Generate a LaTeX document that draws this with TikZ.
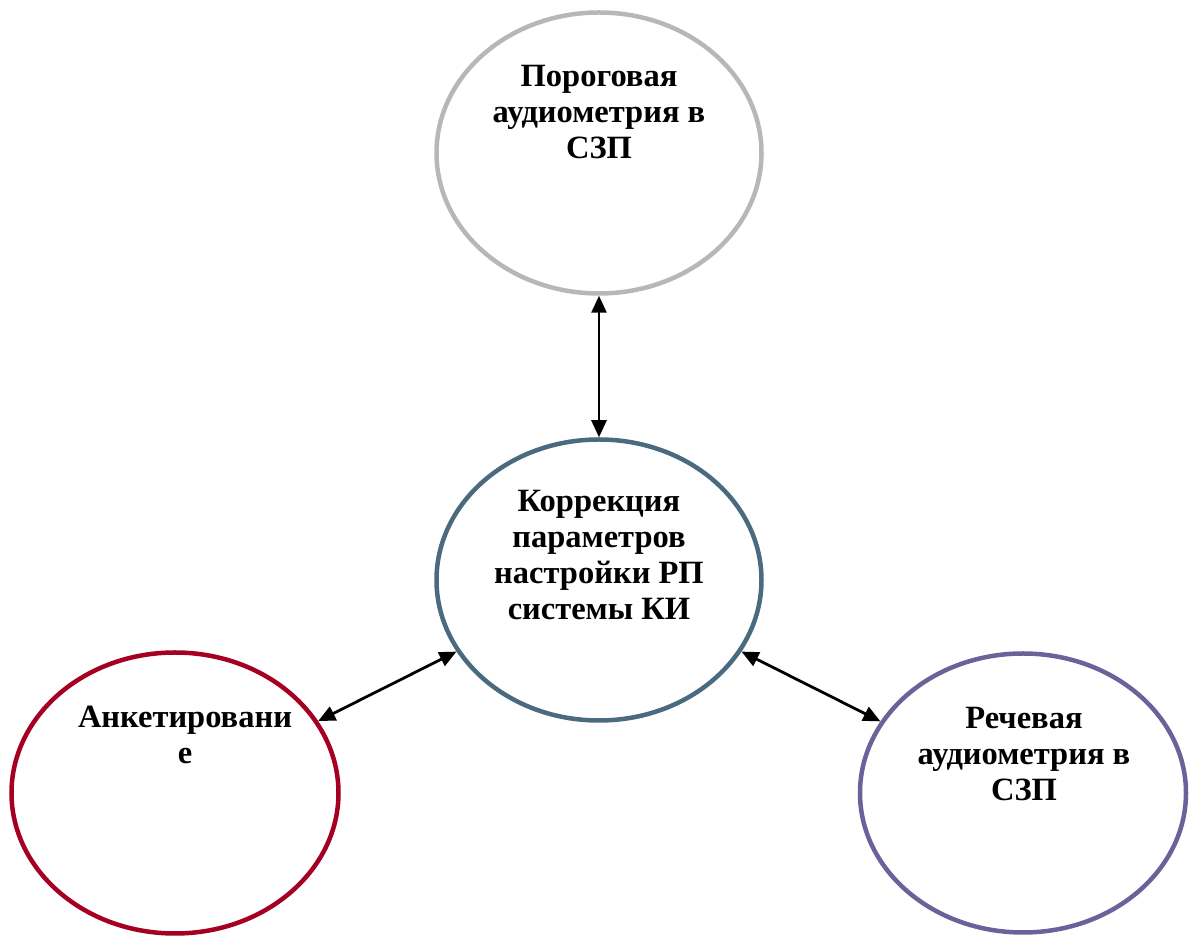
\documentclass[tikz,border=0pt]{standalone}
\usepackage{fontspec}
\setmainfont{Liberation Serif}
\usetikzlibrary{shapes.geometric,arrows.meta}
\definecolor{topgray}{HTML}{B7B7B7}
\definecolor{midblue}{HTML}{4A6A80}
\definecolor{leftred}{HTML}{A50021}
\definecolor{rightpurple}{HTML}{6A6399}
\tikzset{
  oval/.style={ellipse, draw, line width=4.5pt, inner sep=0pt, minimum width=325pt, minimum height=281pt},
  lbl/.style={align=center, font=\fontsize{32.5}{36}\selectfont\bfseries, inner sep=0pt},
  link/.style={line width=2.8pt, {Triangle[length=17pt,width=15pt]}-{Triangle[length=17pt,width=15pt]}}
}
\begin{document}
\begin{tikzpicture}[x=1pt,y=1pt]
\useasboundingbox (0,0) rectangle (1195,937);
\node[oval, draw=topgray] (top) at (599,784) {};
\node[oval, draw=midblue] (mid) at (599,357) {};
\node[oval, draw=leftred, minimum width=327pt] (left) at (175,144) {};
\node[oval, draw=rightpurple, minimum width=326pt, minimum height=279pt] (right) at (1023,144) {};
\node[lbl] (toptext) at (599,825) {Пороговая\\аудиометрия в\\СЗП};
\node[lbl] (midtext) at (599,382) {Коррекция\\параметров\\настройки РП\\системы КИ};
\node[lbl] (lefttext) at (185,202) {Анкетировани\\е};
\node[lbl] (righttext) at (1024,183) {Речевая\\аудиометрия в\\СЗП};
\draw[link] (top) -- (mid);
\draw[link] (left) -- (mid);
\draw[link] (mid) -- (right);
\end{tikzpicture}
\end{document}
